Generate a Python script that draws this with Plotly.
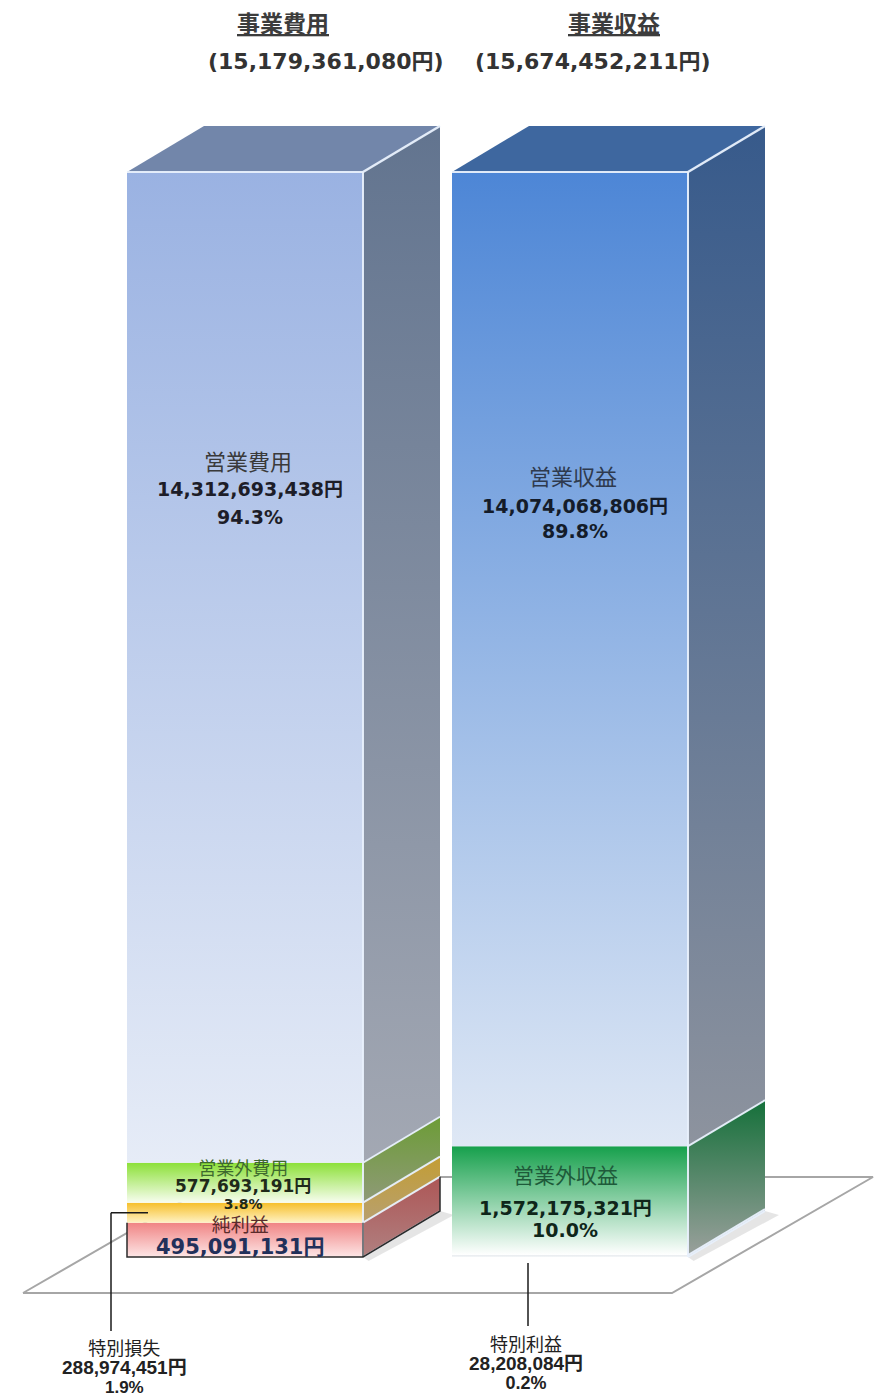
import plotly.graph_objects as go

# ---------------- data ----------------
column_titles = ["事業費用", "事業収益"]

expense_names = ["営業費用", "営業外費用", "特別損失"]
expense_values = [14312693438, 577693191, 288974451]

profit_name = "純利益"
profit_value = 495091131

revenue_names = ["営業収益", "営業外収益", "特別利益"]
revenue_values = [14074068806, 1572175321, 28208084]

# ---------------- geometry (pixels of the page) ----------------
W, H = 879, 1397
BASE_PX, TOP_PX = 1257, 172          # floor line and top of the stacks
CENTER_PX = [245, 570]               # front-face centres of the two columns
UNIT_PX = CENTER_PX[1] - CENTER_PX[0]
HALF_W = 118 / UNIT_PX               # half width of a front face (x units)
DEPTH_X = 77 / UNIT_PX               # 3-D depth offset, horizontal

expense_total = sum(expense_values)
revenue_total = sum(revenue_values)
grand_total = expense_total + profit_value
yen_per_px = grand_total / (BASE_PX - TOP_PX)
DEPTH_Y = 46 * yen_per_px            # 3-D depth offset, vertical

x_range = [-CENTER_PX[0] / UNIT_PX, (W - CENTER_PX[0]) / UNIT_PX]
y_range = [-(H - BASE_PX) * yen_per_px, BASE_PX * yen_per_px]


def dx(px):
    """page x pixel -> x data"""
    return x_range[0] + px / UNIT_PX


def dy(py):
    """page y pixel -> y data"""
    return (BASE_PX - py) * yen_per_px


def fmt_yen(v):
    return f"{v:,}円"


def fmt_pct(v, total):
    return f"{v / total * 100:.1f}%"


# face colours: (front bottom, front top, side bottom, side top)
styles = {
    "営業費用": ("#e6ecf7", "#9ab2e2", "#a3a8b3", "#62748f"),
    "営業外費用": ("#f8fdf0", "#8ce038", "#8f9a78", "#6c9c36"),
    "特別損失": ("#fff2c4", "#f6bf2a", "#b7a070", "#c39d34"),
    "純利益": ("#fde6e6", "#f08484", "#b08080", "#ad5656"),
    "営業収益": ("#dfe8f5", "#4d86d6", "#8d939e", "#375a8b"),
    "営業外収益": ("#ffffff", "#16a04c", "#9aa09c", "#15703a"),
    "特別利益": ("#f4f6f8", "#e8ecef", "#b0b4b8", "#a8acb0"),
}
top_colors = ["#7286aa", "#3e679f"]
edge_color = "rgba(232,240,252,0.95)"

# stacks, bottom to top
stacks = [
    [(profit_name, profit_value),
     (expense_names[2], expense_values[2]),
     (expense_names[1], expense_values[1]),
     (expense_names[0], expense_values[0])],
    [(revenue_names[2], revenue_values[2]),
     (revenue_names[1], revenue_values[1]),
     (revenue_names[0], revenue_values[0])],
]

fig = go.Figure()


def poly(xs, ys, c_bottom, c_top):
    fig.add_trace(go.Scatter(
        x=xs + [xs[0]], y=ys + [ys[0]], mode="lines", fill="toself",
        line=dict(width=0),
        fillgradient=dict(type="vertical",
                          colorscale=[[0, c_bottom], [1, c_top]]),
        hoverinfo="skip", showlegend=False))


def flat(xs, ys, color):
    fig.add_trace(go.Scatter(
        x=xs + [xs[0]], y=ys + [ys[0]], mode="lines", fill="toself",
        fillcolor=color, line=dict(width=0),
        hoverinfo="skip", showlegend=False))


def seg(x0, y0, x1, y1, color, width):
    fig.add_trace(go.Scatter(
        x=[x0, x1], y=[y0, y1], mode="lines",
        line=dict(color=color, width=width),
        hoverinfo="skip", showlegend=False))


# ---------------- floor ----------------
floor_px = [(23, 1293), (672, 1293), (873, 1177), (224, 1177)]
fig.add_trace(go.Scatter(
    x=[dx(p[0]) for p in floor_px] + [dx(floor_px[0][0])],
    y=[dy(p[1]) for p in floor_px] + [dy(floor_px[0][1])],
    mode="lines", fill="toself", fillcolor="white",
    line=dict(color="#a6a6a6", width=2),
    hoverinfo="skip", showlegend=False))

# ---------------- 3-D stacked columns ----------------
sx, sy = 14 / UNIT_PX, 4 * yen_per_px
for i, stack in enumerate(stacks):
    xl, xr = i - HALF_W, i + HALF_W
    # soft floor shadow beside the column
    flat([xr, xr + DEPTH_X, xr + DEPTH_X + sx, xr + sx * 0.4],
         [0, DEPTH_Y, DEPTH_Y - sy, -sy], "rgba(0,0,0,0.10)")
    base = 0
    bounds = []
    for name, val in stack:
        fb, ft, sb, st = styles[name]
        y0, y1 = base, base + val
        # side face
        poly([xr, xr + DEPTH_X, xr + DEPTH_X, xr],
             [y0, y0 + DEPTH_Y, y1 + DEPTH_Y, y1], sb, st)
        # front face
        poly([xl, xr, xr, xl], [y0, y0, y1, y1], fb, ft)
        bounds.append((y0, y1))
        base = y1
    top = base
    # top face
    poly([xl, xr, xr + DEPTH_X, xl + DEPTH_X],
         [top, top, top + DEPTH_Y, top + DEPTH_Y], top_colors[i], top_colors[i])
    # light edges
    seg(xl, top, xr, top, edge_color, 2)
    seg(xr, 0, xr, top, edge_color, 2)
    seg(xr, top, xr + DEPTH_X, top + DEPTH_Y, edge_color, 2.5)
    seg(xr, 0, xr + DEPTH_X, DEPTH_Y, edge_color, 2)
    for (y0, y1) in bounds[:-1]:
        seg(xr, y1, xr + DEPTH_X, y1 + DEPTH_Y, edge_color, 2)

# dark outline around the net-profit block
p0, p1 = 0, profit_value
xl, xr = -HALF_W, HALF_W
fig.add_trace(go.Scatter(
    x=[xl, xl, xr, xr + DEPTH_X, xr + DEPTH_X],
    y=[p1, p0, p0, DEPTH_Y, p1 + DEPTH_Y],
    mode="lines", line=dict(color="#2b2b2b", width=1.5),
    hoverinfo="skip", showlegend=False))
seg(xr, p0, xr, p1, "#2b2b2b", 1.2)

# ---------------- leader lines ----------------
loss_mid = profit_value + expense_values[2] / 2
lead_x = dx(111)
seg(dx(148), loss_mid, lead_x, loss_mid, "#1a1a1a", 1.5)
seg(lead_x, loss_mid, lead_x, dy(1331), "#1a1a1a", 1.5)
seg(dx(528), dy(1263), dx(528), dy(1326), "#1a1a1a", 1.5)

# ---------------- text ----------------
JP = "Noto Sans CJK JP"
NUM = "DejaVu Sans, Noto Sans CJK JP"
CAL = "Liberation Sans, Noto Sans CJK JP"
annotations = []


def label(px, py, text, size, color, family=JP, bold=False):
    annotations.append(dict(
        x=px / W, y=1 - py / H, xref="paper", yref="paper",
        text=f"<b>{text}</b>" if bold else text, showarrow=False,
        xanchor="center", yanchor="middle",
        font=dict(family=family, size=size, color=color)))


def span(text, size, color, family, bold=False):
    weight = "bold" if bold else "normal"
    return (f"<span style='font-size:{size}px;color:{color};"
            f"font-family:{family};font-weight:{weight}'>{text}</span>")


def block(px, py, lines, pitch):
    """several tightly stacked lines in one text element; the base font
    size sets the line pitch (1.3 em)"""
    annotations.append(dict(
        x=px / W, y=1 - py / H, xref="paper", yref="paper",
        text="<br>".join(lines), showarrow=False,
        xanchor="center", yanchor="middle", align="center",
        font=dict(family=JP, size=pitch / 1.3, color="#222222")))


# column titles
label(283, 22, f"<u>{column_titles[0]}</u>", 23, "#3c3c3c", bold=True)
label(614, 22, f"<u>{column_titles[1]}</u>", 23, "#3c3c3c", bold=True)
label(326, 62, f"({expense_total:,}円)", 22, "#333333", NUM, True)
label(593, 62, f"({revenue_total:,}円)", 22, "#333333", NUM, True)

# operating blocks
label(248, 460, expense_names[0], 22, "#3a3a3a")
label(250, 489, fmt_yen(expense_values[0]), 19, "#1d1d28", NUM, True)
label(250, 517, fmt_pct(expense_values[0], expense_total), 19, "#1d1d28", NUM, True)

label(573, 475, revenue_names[0], 22, "#2e3a4e")
label(575, 506, fmt_yen(revenue_values[0]), 19, "#141c2a", NUM, True)
label(575, 531, fmt_pct(revenue_values[0], revenue_total), 19, "#141c2a", NUM, True)

# lower blocks, left column
block(243, 1183, [
    span(expense_names[1], 18, "#3e6a2e", JP),
    span(fmt_yen(expense_values[1]), 17, "#1f2a1a", NUM, True),
    span(fmt_pct(expense_values[1], expense_total), 14, "#1f2a1a", NUM, True),
], 17)
block(240, 1234, [
    span(profit_name, 19, "#5a2c2c", JP),
    span(fmt_yen(profit_value), 21, "#22305a", NUM, True),
], 22)

# lower block, right column
label(565, 1174, revenue_names[1], 21, "#1e5a3a")
label(565, 1208, fmt_yen(revenue_values[1]), 19, "#0f261a", NUM, True)
label(565, 1230, fmt_pct(revenue_values[1], revenue_total), 19, "#0f261a", NUM, True)

# call-out labels for the thin extraordinary items
block(124, 1365, [
    span(expense_names[2], 18, "#222222", JP),
    span(fmt_yen(expense_values[2]), 19, "#222222", CAL, True),
    span(fmt_pct(expense_values[2], expense_total), 17, "#222222", CAL, True),
], 19)
block(526, 1361, [
    span(revenue_names[2], 18, "#222222", JP),
    span(fmt_yen(revenue_values[2]), 19, "#222222", CAL, True),
    span(fmt_pct(revenue_values[2], revenue_total), 18, "#222222", CAL, True),
], 19)

fig.update_layout(
    width=W, height=H, margin=dict(l=0, r=0, t=0, b=0),
    paper_bgcolor="white", plot_bgcolor="white",
    xaxis=dict(range=x_range, visible=False, fixedrange=True),
    yaxis=dict(range=y_range, visible=False, fixedrange=True),
    annotations=annotations, showlegend=False,
)

fig.write_html("out.html")
